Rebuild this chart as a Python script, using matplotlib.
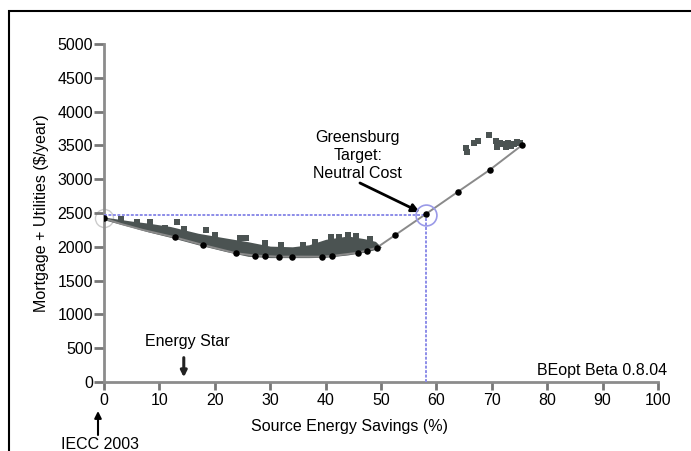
import matplotlib
matplotlib.use("Agg")
import matplotlib.pyplot as plt
from matplotlib.patches import Rectangle

plt.rcParams['font.family'] = ['Liberation Sans', 'DejaVu Sans']
FS = 11.5

# Frontier (least-cost curve)
frontier_x = [0, 3, 7, 12.8, 17.9, 23.9, 27.3, 31.5, 35, 39.3, 41.1, 45.9, 49.2, 52.5, 58.1, 63.9, 69.6, 75.4]
frontier_y = [2420, 2340, 2250, 2140, 2026, 1904, 1870, 1854, 1855, 1854, 1864, 1913, 1985, 2170, 2485, 2815, 3136, 3500]
# Black highlighted points on frontier
dots_x = [0, 12.8, 17.9, 23.9, 27.3, 29, 31.5, 34, 39.3, 41.1, 45.9, 47.5, 49.2, 52.5, 58.1, 63.9, 69.6, 75.4]
dots_y = [2420, 2140, 2026, 1904, 1870, 1860, 1854, 1855, 1854, 1864, 1913, 1940, 1985, 2170, 2485, 2815, 3136, 3500]

# Cloud of simulated designs (band)
cloud_x = [0, 5, 8, 12, 17, 22, 26, 30, 34, 37, 40, 44, 47, 49, 50]
cloud_upper = [2440, 2380, 2350, 2300, 2200, 2130, 2075, 2010, 2000, 2030, 2110, 2160, 2120, 2080, 2000]
cloud_lower = [2400, 2290, 2220, 2140, 2030, 1930, 1860, 1840, 1840, 1840, 1845, 1880, 1920, 1960, 1990]

# Designs along the cloud edge and scattered outliers
out_x = [3, 6, 8.3, 11, 13.1, 14.5, 18.5, 20, 24.5, 25.7, 29, 32, 36, 38, 41, 42.5, 44, 45.5, 48,
         65.4, 65.6, 66.8, 67.5, 69.5, 70.8, 71.5, 72, 73, 74, 74.5, 71, 72.5, 73.5, 75]
out_y = [2410, 2370, 2372, 2285, 2372, 2260, 2250, 2180, 2135, 2125, 2060, 2020, 2020, 2070, 2140, 2150, 2170, 2160, 2110,
         3456, 3400, 3540, 3560, 3654, 3560, 3540, 3520, 3540, 3520, 3550, 3480, 3470, 3490, 3540]

target_x = 58.1
target_y = 2470

xticks = list(range(0, 101, 10))
yticks = list(range(0, 5001, 500))

fig = plt.figure(figsize=(6.91, 4.51), dpi=100)
ax = fig.add_axes([104/691, 1-382/451, 554/691, 338/451])

cloud_col = '#4b5352'
ax.fill_between(cloud_x, cloud_lower, cloud_upper, color=cloud_col, lw=0, zorder=2)
ax.scatter(out_x, out_y, marker='s', s=24, color=cloud_col, lw=0, zorder=2)
ax.plot(frontier_x, frontier_y, color='#8a8a8a', lw=1.4, zorder=3)
ax.scatter(dots_x, dots_y, marker='o', s=22, color='black', lw=0, zorder=4)

# target lines
blue = '#8c8ce8'
ax.plot([0, target_x], [target_y, target_y], color=blue, lw=1.4, ls=(0, (1.5, 0.8)), zorder=3)
ax.plot([target_x, target_x], [0, target_y], color=blue, lw=1.4, ls=(0, (1.5, 0.8)), zorder=3)
ax.plot([target_x], [target_y], marker='o', ms=15, mfc='none', mec='#9a9ae8', mew=1.2, zorder=5)
ax.plot([0], [2420], marker='o', ms=13, mfc='none', mec='#cccccc', mew=1.0, zorder=1, clip_on=False)

ax.set_xlim(0, 100)
ax.set_ylim(0, 5000)
ax.set_xticks(xticks)
ax.set_yticks(yticks)
for s in ['top', 'right']:
    ax.spines[s].set_visible(False)
for s in ['left', 'bottom']:
    ax.spines[s].set_color('#8c8c8c')
    ax.spines[s].set_linewidth(2)
ax.tick_params(axis='both', colors='#777777', length=7, width=2, labelcolor='black', labelsize=FS, pad=1)
ax.tick_params(axis='x', length=6, pad=2)

ax.text(45.8, 3350, 'Greensburg\nTarget:\nNeutral Cost', ha='center', va='center',
        fontsize=FS, linespacing=1.25)
ax.annotate('', xy=(57.0, 2515), xytext=(46.2, 2944),
            arrowprops=dict(arrowstyle='-|>', lw=2, color='black', mutation_scale=12, shrinkA=0, shrinkB=0))
ax.text(15.05, 606, 'Energy Star', ha='center', va='center', fontsize=FS)
ax.annotate('', xy=(14.4, 70), xytext=(14.4, 360),
            arrowprops=dict(arrowstyle='-|>', lw=2.2, color='#222222', mutation_scale=9, shrinkA=0, shrinkB=0))
ax.text(101.6, 170, 'BEopt Beta 0.8.04', ha='right', va='center', fontsize=FS)

fig.text(349/691, 1-426/451, 'Source Energy Savings (%)', ha='center', va='center', fontsize=FS)
fig.text(42/691, 1-213/451, 'Mortgage + Utilities ($/year)', ha='center', va='center',
         rotation=90, fontsize=FS)
fig.text(100/691, 1-437/451, 'IECC 2003', ha='center', va='top', fontsize=FS)
ax.annotate('', xy=(98/691, 1-411/451), xytext=(98/691, 1-435/451), xycoords='figure fraction',
            textcoords='figure fraction',
            arrowprops=dict(arrowstyle='-|>', lw=1.5, color='black', mutation_scale=10, shrinkA=0, shrinkB=0),
            annotation_clip=False)

fig.patches.append(Rectangle((9/691, -0.1), 1.2, (451-11)/451 + 0.1, transform=fig.transFigure,
                             fill=False, lw=1.5, ec='black'))

fig.savefig('out.png', dpi=100)
